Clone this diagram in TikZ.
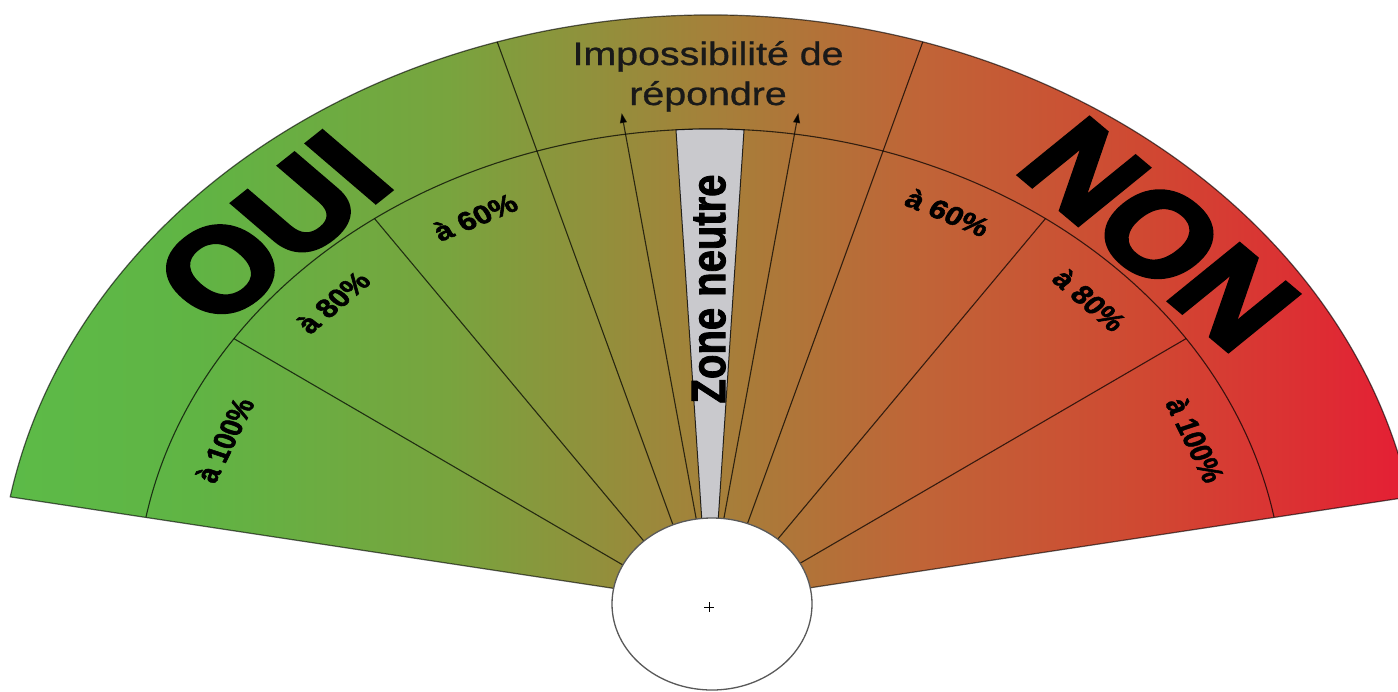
\documentclass[tikz,border=0pt]{standalone}
\usepackage{fontspec}
\setmainfont{Liberation Sans}
\newfontfamily\heavyfont{Liberation Sans}[UprightFont={* Bold},FakeBold=3.5]
\newfontfamily\labfont{Liberation Sans}[UprightFont={* Bold},FakeBold=2]
\newfontfamily\titlefont{Liberation Sans}[FakeBold=0.8]
\usetikzlibrary{arrows.meta}
\definecolor{c1}{RGB}{92,187,72}
\definecolor{c2}{RGB}{96,180,68}
\definecolor{c3}{RGB}{120,164,62}
\definecolor{c4}{RGB}{163,130,58}
\definecolor{c5}{RGB}{192,100,55}
\definecolor{c6}{RGB}{208,72,50}
\definecolor{c7}{RGB}{228,32,52}
\definecolor{wedgegray}{RGB}{201,201,205}
\pgfdeclarehorizontalshading{fanshade}{100bp}{color(0bp)=(c1); color(25bp)=(c1); color(32bp)=(c2); color(41bp)=(c3); color(50bp)=(c4); color(58bp)=(c5); color(66bp)=(c6); color(75bp)=(c7); color(100bp)=(c7)}
\begin{document}
\begin{tikzpicture}[x=1pt,y=1pt,
  fanframe/.style={shift={(710,-603)},xscale=1.21},
  sep/.style={draw=black,draw opacity=0.72,line width=1.1pt},
  rim/.style={draw=black,draw opacity=0.6,line width=1.2pt},
  lab/.style={transform shape,font=\labfont\fontsize{26}{26}\selectfont,inner sep=0pt},
  big/.style={transform shape,font=\heavyfont\fontsize{118}{118}\selectfont,inner sep=0pt},
  title/.style={transform shape,font=\titlefont\fontsize{32.5}{39}\selectfont,text=black!90,inner sep=0pt,anchor=base},
  tip/.style={-{Triangle[length=10pt,width=7pt]}}]
\useasboundingbox (0,0) rectangle (1398,-691);
\fill[white] (0,0) rectangle (1398,-691);
% gradient fill of the fan
\begin{scope}
  \clip[fanframe] (0,0) -- (10.4:588) arc[start angle=10.4,end angle=169.6,radius=588] -- cycle;
  \shade[shading=fanshade] (0,0) rectangle (1398,-691);
\end{scope}
\begin{scope}[fanframe]
  % separators
  \draw[sep] (146.1:474) -- (-32.2,10);
  \draw[sep] (125.8:474) -- (-25.7,20);
  \draw[sep] (107.4:588) -- (-16.1,30);
  \draw[sep] (33.9:474) -- (32.2,10);
  \draw[sep] (54.2:474) -- (25.7,20);
  \draw[sep] (72.6:588) -- (16.1,30);
  % arrows
  \coordinate (la) at (-4.7,40);
  \coordinate (lt) at (-73,490);
  \coordinate (ra) at (4.7,40);
  \coordinate (rt) at (73,490);
  \draw[sep,tip] (la) -- (lt);
  \draw[sep,tip] (ra) -- (rt);
  % middle arc
  \draw[sep] (10.4:474) arc[start angle=10.4,end angle=169.6,radius=474];
  % neutral wedge
  \filldraw[fill=wedgegray,draw=black,draw opacity=0.8,line width=1pt] (-5.5,60) -- (93.4:474) arc[start angle=93.4,end angle=86.6,radius=474] -- (5.5,60) -- cycle;
  % outline
  \draw[rim] (0,0) -- (10.4:588) arc[start angle=10.4,end angle=169.6,radius=588] -- cycle;
\end{scope}
% centre disc
\filldraw[fill=white,draw=black!65,line width=1.3pt] (712,-604) ellipse[x radius=100,y radius=86];
\draw[line width=0.8pt] (704,-607) -- (714,-607) (709,-602) -- (709,-612);
% texts
\begin{scope}[fanframe]
  \node[title] (t1) at (-1.6,538) {Impossibilité de};
  \node[title] (t2) at (-1.6,498) {répondre};
  \node[big,rotate=44] (oui) at (134:521) {OUI};
  \node[big,rotate=-45.5] (non) at (44.8:523) {NON};
  \node[lab,rotate=67.9] (l100) at (157.9:433) {à 100\%};
  \node[lab,rotate=46] (l80) at (136:433) {à 80\%};
  \node[lab,rotate=26.7] (l60) at (116.7:432) {à 60\%};
  \node[lab,rotate=-67.9] (r100) at (22.1:433) {à 100\%};
  \node[lab,rotate=-46] (r80) at (44:436) {à 80\%};
  \node[lab,rotate=-26.7] (r60) at (63.3:437) {à 60\%};
  \node[transform shape,rotate=90,font=\labfont\fontsize{40}{40}\selectfont,inner sep=0pt] (zn) at (-1,314) {Zone neutre};
\end{scope}
\end{tikzpicture}
\end{document}
